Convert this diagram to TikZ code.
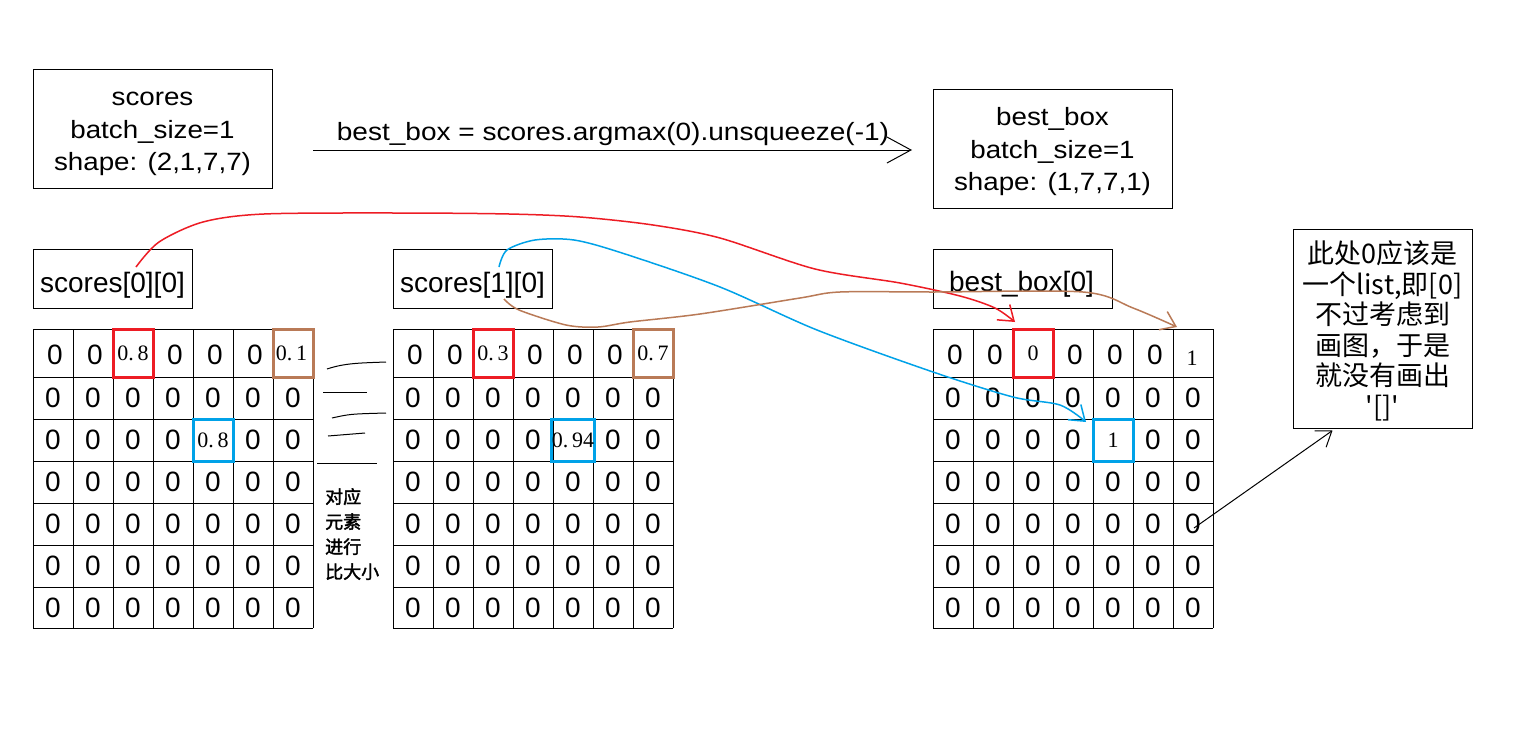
\documentclass[tikz,border=0pt]{standalone}
\usepackage{fontspec}
\setmainfont{Liberation Sans}
\newfontfamily\cjk{Noto Sans CJK SC}
\newfontfamily\cjkb{Noto Sans CJK SC}[FakeBold=2]
\newfontfamily\serifnum{Liberation Serif}
\usetikzlibrary{arrows.meta}
\definecolor{redc}{RGB}{237,28,36}
\definecolor{bluec}{RGB}{0,162,232}
\definecolor{brownc}{RGB}{185,122,87}
\newcommand\drawgrid[1]{%
  \foreach \yy in {329,377,419,461,503,545,587,628} \draw[gridline] (#1,\yy) -- (#1+280,\yy);
  \foreach \xx in {0,40,...,280} \draw[gridline] (#1+\xx,329) -- (#1+\xx,628);
}
\newcommand\drawzeros[2]{%
  \foreach \c in {0,...,6} {\foreach \r in {1,...,6} {%
    \ifnum\c\r=42 \else
      \node[zero] (#2-\c-\r) at ({#1+20+40*\c},{398+42*(\r-1)}) {0};
    \fi}}%
  \foreach \c in {0,1,3,4,5} \node[zero] (#2-\c-0) at ({#1+22+40*\c},355) {0};
}
\tikzset{
  gridline/.style={line width=1pt, black},
  box/.style={draw, line width=1pt, inner sep=0pt},
  lbl/.style={font=\fontsize{25}{25}\selectfont, inner sep=0pt, anchor=base, xscale=1.11},
  lbltwo/.style={font=\fontsize{28}{28}\selectfont, inner sep=0pt, anchor=base},
  zero/.style={font=\fontsize{28}{28}\selectfont, inner sep=0pt},
  hl/.style={line width=3pt, minimum width=40pt, inner sep=0pt, font=\serifnum\fontsize{22}{22}\selectfont},
  hltop/.style={hl, minimum height=48pt},
  hlmid/.style={hl, minimum height=42pt},
  snum/.style={inner sep=0pt, font=\serifnum\fontsize{22}{22}\selectfont},
  curve/.style={line width=1.5pt},
  barb/.style={-{Straight Barb[length=14pt,width=20pt]}}
}
\begin{document}
\begin{tikzpicture}[x=1pt,y=-1pt]
\fill[white] (0,0) rectangle (1519,731);
\useasboundingbox (0,0) rectangle (1519,731);

% top boxes
\node[box, minimum width=239pt, minimum height=119pt] (scoresBox) at (152.5,128.5) {};
\node[lbl] (s1) at (152.5,105) {scores};
\node[lbl] (s2) at (152.5,138) {batch\_size=1};
\node[lbl] (s3) at (152.5,170) {shape: (2,1,7,7)};

\node[box, minimum width=239pt, minimum height=119pt] (bestBox) at (1052.5,148.5) {};
\node[lbl] (b1) at (1052.5,125) {best\_box};
\node[lbl] (b2) at (1052.5,158) {batch\_size=1};
\node[lbl] (b3) at (1052.5,190) {shape: (1,7,7,1)};

% main arrow
\coordinate (aS) at (313,150);
\coordinate (aE) at (912,150);
\draw[line width=1pt, -{Straight Barb[length=24pt,width=26pt]}] (aS) -- (aE);
\node[lbl, xscale=1.01] (op) at (613,140) {best\_box = scores.argmax(0).unsqueeze(-1)};

% slice labels
\node[box, minimum width=159pt, minimum height=59pt] (g0box) at (112.5,278.5) {};
\node[lbltwo] (g0lbl) at (112.5,292) {scores[0][0]};
\node[box, minimum width=159pt, minimum height=59pt] (g1box) at (472.5,278.5) {};
\node[lbltwo] (g1lbl) at (472.5,292) {scores[1][0]};
\node[box, minimum width=179pt, minimum height=59pt] (g2box) at (1022.5,278.5) {};
\node[lbltwo] (g2lbl) at (1021.5,291) {best\_box[0]};

% grids
\drawgrid{33}
\drawgrid{393}
\drawgrid{933}
\drawzeros{33}{L}
\drawzeros{393}{M}
\drawzeros{933}{R}

% highlighted cells, left
\node[hltop, draw=redc] (L-2-0) at (133,353) {0.\hspace{4pt}8};
\node[hltop, draw=brownc] (L-6-0) at (293,353) {\hspace{-3pt}0.\hspace{4pt}1};
\node[hlmid, draw=bluec] (L-4-2) at (213,440) {0.\hspace{4pt}8};
% middle
\node[hltop, draw=redc] (M-2-0) at (493,353) {0.\hspace{4pt}3};
\node[hltop, draw=brownc] (M-6-0) at (653,353) {0.\hspace{4pt}7};
\node[hlmid, draw=bluec] (M-4-2) at (573,440) {0.\hspace{4pt}94};
% right
\node[hltop, draw=redc] (R-2-0) at (1033,353) {0};
\node[snum] (R-6-0) at (1192,358) {1};
\node[hlmid, draw=bluec] (R-4-2) at (1113,440) {\raisebox{-4pt}{1}};

% hand strokes between grids
\draw[line width=1pt] (327,369) .. controls (345,363) and (360,363) .. (386,362);
\draw[line width=1pt] (323,392) -- (367,392);
\draw[line width=1pt] (332,418) .. controls (350,414) .. (386,413);
\draw[line width=1pt] (328,436) -- (365,433);
\draw[line width=1pt] (317,463) -- (377,463);
\node[align=left, anchor=north west, inner sep=0pt, font=\cjkb\fontsize{18}{25}\selectfont] (cmp) at (325,488) {对应\\元素\\进行\\比大小};

% note box
\node[box, minimum width=179pt, minimum height=199pt] (note) at (1382.5,328.5) {};
\node[align=center, inner sep=0pt, font=\cjk\fontsize{27}{30.5}\selectfont] (noteTxt) at (1382.5,331) {此处0应该是\\一个list,即[0]\\不过考虑到\\画图，于是\\就没有画出\\\textquotesingle[]\textquotesingle};
\coordinate (nS) at (1194,528);
\draw[line width=1pt, barb] (nS) -- ([xshift=-50pt,yshift=-2pt]note.south);

% curves
\coordinate (rS) at (136,267);
\coordinate (rE) at (1015,322);
\draw[redc, curve, barb] plot[smooth, tension=0.5] coordinates {(rS) (159,242) (203,222) (264,214) (400,213) (509,214) (580,217) (653,225) (720,238) (815,269) (900,283) (960,296) (995,308) (rE)};
\coordinate (bS) at (499,267);
\coordinate (bE) at (1086,422);
\draw[bluec, curve, barb] plot[smooth, tension=0.5] coordinates {(bS) (507,250) (535,240) (574,240) (622,253) (720,287) (817,330) (933,372) (1013,397) (1060,405) (bE)};
\coordinate (brS) at (504,299);
\coordinate (brE) at (1177,327);
\draw[brownc, curve, barb] plot[smooth, tension=0.5] coordinates {(brS) (519,310) (566,325) (598,327) (630,322) (700,314) (800,298) (840,292) (933,292) (1083,292) (1133,308) (brE)};
\end{tikzpicture}
\end{document}
